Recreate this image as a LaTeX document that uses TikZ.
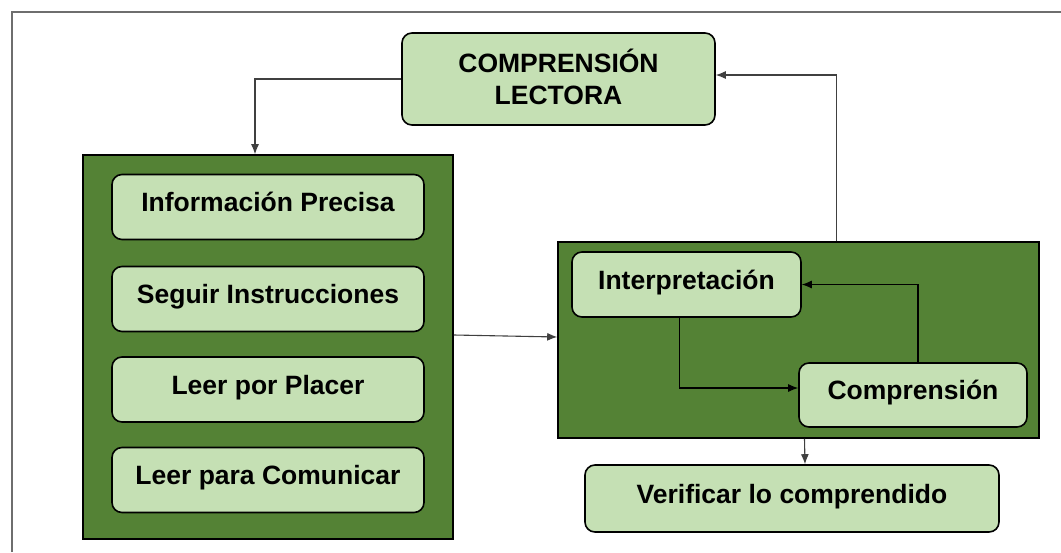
\documentclass[tikz,border=0pt]{standalone}
\usepackage{fontspec}
\setmainfont{Liberation Sans}
\usepackage{tikz}
\usetikzlibrary{arrows.meta,shapes,positioning}
\usepackage{xcolor}
\definecolor{verdeclaro}{RGB}{197,224,180}
\definecolor{verdeosc}{RGB}{84,130,53}
\definecolor{marco}{RGB}{110,110,110}
\tikzstyle{caja} = [draw=black, line width=1.6pt, fill=verdeclaro, rounded corners=10pt, inner sep=0pt, align=center, text height=19pt, text depth=10pt, font=\fontsize{26.5}{32}\selectfont\bfseries]
\tikzstyle{grupo} = [draw=black, line width=1.6pt, fill=verdeosc, inner sep=0pt]
\tikzstyle{flecha} = [line width=1.1pt, -{Latex[length=10pt,width=8pt]}, color=black!75]

\begin{document}
\begin{tikzpicture}[x=1pt, y=-1pt]
\useasboundingbox (0,0) rectangle (1061,552);
% Marco
\draw[marco, line width=2pt] (12,552) -- (12,12) -- (1061,12);

% Titulo
\node[caja, text height=51pt, text depth=0pt, minimum width=313pt, minimum height=92pt] (lectora) at (558.5,79) {COMPRENSIÓN\\LECTORA};

% Grupo izquierdo
\node[grupo, minimum width=370pt, minimum height=384pt] (izq) at (268,347) {};
\foreach \nombre/\texto/\y in {info/Información Precisa/207, seguir/Seguir Instrucciones/299, placer/Leer por Placer/389.5, comunicar/Leer para Comunicar/480}
    \node[caja, minimum width=312pt, minimum height=65pt] (\nombre) at (268,\y) {\texto};

% Grupo derecho
\node[grupo, minimum width=481pt, minimum height=196pt] (der) at (798.5,340) {};
\node[caja, minimum width=229pt, minimum height=65pt] (interp) at (686.5,284.5) {Interpretación};
\node[caja, minimum width=228pt, minimum height=64pt] (comp) at (913,395) {Comprensión};

% Verificar
\node[caja, minimum width=414pt, minimum height=67pt] (verif) at (792,498.5) {Verificar lo comprendido};

% Flechas
\draw[flecha] (lectora.west) -| ([xshift=-13pt]izq.north);
\draw[flecha] ([xshift=38pt]der.north) |- ([yshift=4pt]lectora.east);
\draw[flecha] ([yshift=12pt]izq.east) -- ([yshift=3pt]der.west);
\draw[flecha, color=black] ([xshift=-7pt]interp.south) |- ([yshift=7pt]comp.west);
\draw[flecha, color=black] ([xshift=5pt]comp.north) |- (interp.east);
\draw[flecha] ([xshift=6pt]der.south) -- ([xshift=13pt]verif.north);
\end{tikzpicture}
\end{document}
